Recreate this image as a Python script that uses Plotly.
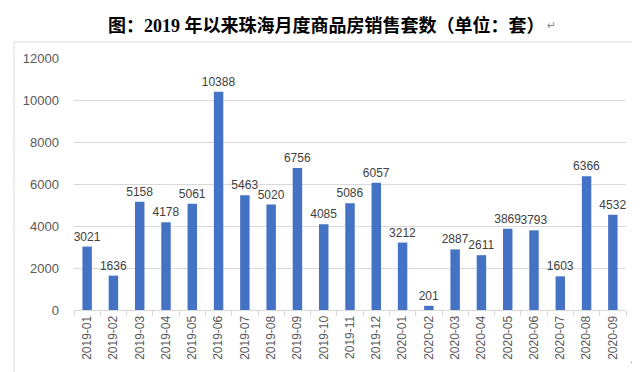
import plotly.graph_objects as go

months = ["2019-01", "2019-02", "2019-03", "2019-04", "2019-05", "2019-06",
          "2019-07", "2019-08", "2019-09", "2019-10", "2019-11", "2019-12",
          "2020-01", "2020-02", "2020-03", "2020-04", "2020-05", "2020-06",
          "2020-07", "2020-08", "2020-09"]
sales = [3021, 1636, 5158, 4178, 5061, 10388, 5463, 5020, 6756, 4085, 5086, 6057,
         3212, 201, 2887, 2611, 3869, 3793, 1603, 6366, 4532]
y_ticks = [0, 2000, 4000, 6000, 8000, 10000, 12000]
y_tick_labels = ["0", "2000", "4000", "6000", "8000", "10000", "12000"]
title_text = "图：2019 年以来珠海月度商品房销售套数（单位：套）"

W, H = 640, 372
L, R, T, B = 66, 618, 50, 302  # plot area in pixels


def px(x):
    return (x - L) / (R - L)


def py(y):
    return (B - y) / (B - T)


fig = go.Figure(go.Bar(
    x=months, y=sales,
    marker=dict(color="#4472C4", line=dict(width=0)),
    width=0.36,
    text=[str(v) for v in sales],
    textposition="outside",
    constraintext="none",
    textfont=dict(family="Liberation Sans, Arial", size=12, color="#404040"),
    cliponaxis=False,
))

fig.update_layout(
    width=W, height=H,
    margin=dict(l=L, r=W - R, t=T, b=H - B),
    paper_bgcolor="white", plot_bgcolor="white",
    showlegend=False,
    bargap=0.64,
    font=dict(family="Liberation Sans, Arial", color="#595959"),
    shapes=[dict(type="rect", xref="paper", yref="paper",
                 x0=px(6), x1=px(632), y0=py(366), y1=py(34),
                 line=dict(color="#D9D9D9", width=1), fillcolor="rgba(0,0,0,0)",
                 layer="below")],
    annotations=[
        dict(text="<b>" + title_text + "</b>", xref="paper", yref="paper",
             x=px(318), y=py(17), xanchor="center", yanchor="middle",
             showarrow=False,
             font=dict(family="Liberation Serif, Noto Sans CJK SC", size=18, color="#000000")),
        dict(text="↵", xref="paper", yref="paper", x=px(537), y=py(17),
             xanchor="left", yanchor="middle", showarrow=False,
             font=dict(family="DejaVu Sans", size=11, color="#888888")),
        dict(text="↵", xref="paper", yref="paper", x=px(631), y=py(354),
             xanchor="right", yanchor="middle", showarrow=False, borderpad=0,
             font=dict(family="DejaVu Sans", size=8, color="#888888")),
    ],
)

fig.update_xaxes(
    type="category",
    tickangle=-90,
    tickfont=dict(size=12, color="#595959"),
    showline=True, linecolor="#D9D9D9", linewidth=1,
    ticks="outside", tickson="boundaries", ticklen=5, tickcolor="#D9D9D9",
    showgrid=False,
)
fig.update_yaxes(
    range=[0, 12000],
    tickvals=y_ticks,
    ticktext=y_tick_labels,
    tickfont=dict(size=13, color="#595959"),
    showgrid=True, gridcolor="#D9D9D9", gridwidth=1,
    zeroline=False, showline=False,
    ticklabelstandoff=14,
)

fig.write_html("out.html", config={"displayModeBar": False})
